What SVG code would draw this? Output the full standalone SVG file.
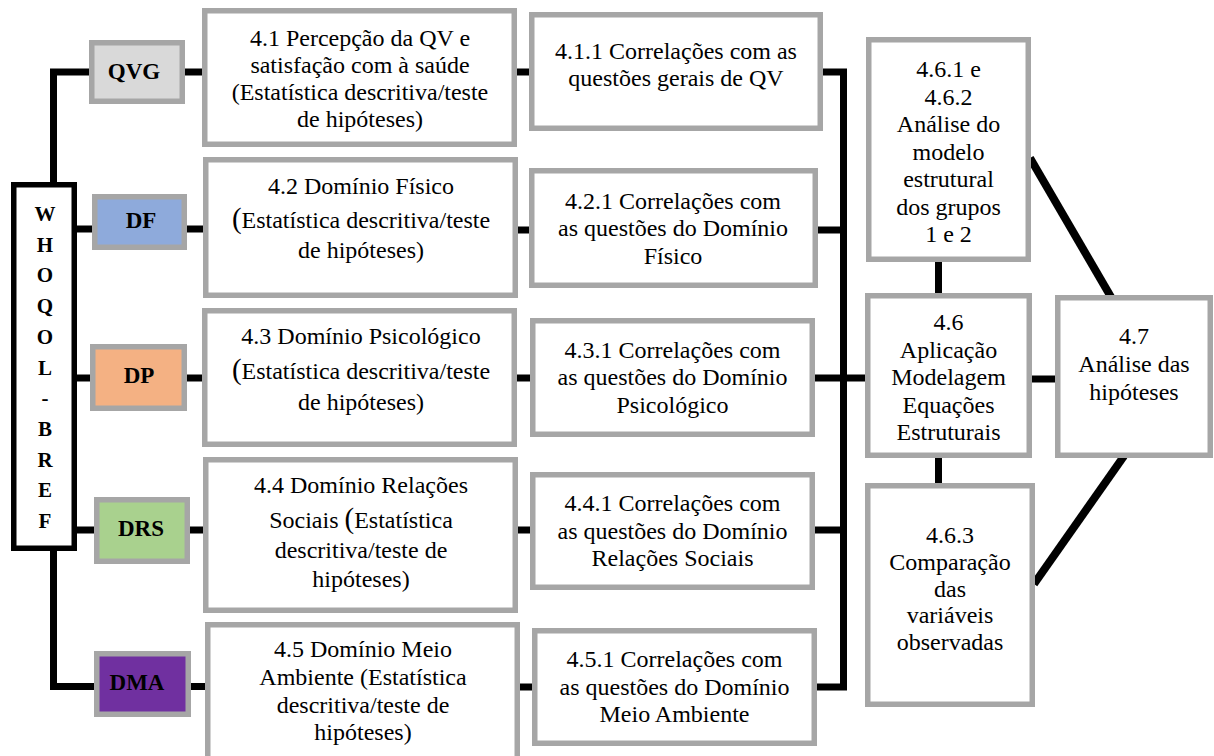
<svg xmlns="http://www.w3.org/2000/svg" width="1214" height="756" viewBox="0 0 1214 756">
<defs>
<style>
.bx{fill:#fff;stroke:#a6a6a6;stroke-width:5.5}
.lb{stroke:#a6a6a6;stroke-width:5.5}
.c{fill:none;stroke:#000;stroke-width:7;stroke-linejoin:miter}
.d{fill:none;stroke:#000;stroke-width:8}
</style>
</defs>
<rect width="1214" height="756" fill="#fff"/>
<g id="connectors">
<path class="c" d="M89 72H53.5V184"/>
<path class="c" d="M53.5 549V686.5H95"/>
<path class="c" d="M76 229H93"/>
<path class="c" d="M76 378H91"/>
<path class="c" d="M76 530H95"/>
<path class="c" d="M184 72H203"/>
<path class="c" d="M186 229H204"/>
<path class="c" d="M186 378H203"/>
<path class="c" d="M189 530H204"/>
<path class="c" d="M190 686.5H206"/>
<path class="c" d="M516 72H530"/>
<path class="c" d="M517 230H530"/>
<path class="c" d="M516 378H531"/>
<path class="c" d="M517 530H531"/>
<path class="c" d="M519 687H533"/>
<path class="c" d="M822 72H843.5V687H816"/>
<path class="c" d="M817 230H843.5"/>
<path class="c" d="M814 378H866"/>
<path class="c" d="M814 530H843.5"/>
<path class="c" d="M938.5 261V294"/>
<path class="c" d="M938.5 457V484"/>
<path class="c" d="M1031 379H1056"/>
<path class="d" d="M1030 158L1111 297"/>
<path class="d" d="M1034 584L1124 456"/>
</g>
<g id="whoqol" style="font-family:'Liberation Serif',serif;font-size:21px;font-weight:bold" text-anchor="middle">
<rect x="13.75" y="184.75" width="60.5" height="363.5" fill="#fff" stroke="#000" stroke-width="5.5"/>
<text style="font-family:'Liberation Serif',serif" x="45" y="221">W</text>
<text style="font-family:'Liberation Serif',serif" x="45" y="251.7">H</text>
<text style="font-family:'Liberation Serif',serif" x="45" y="282.4">O</text>
<text style="font-family:'Liberation Serif',serif" x="45" y="313">Q</text>
<text style="font-family:'Liberation Serif',serif" x="45" y="343.8">O</text>
<text style="font-family:'Liberation Serif',serif" x="45" y="374.5">L</text>
<text style="font-family:'Liberation Serif',serif" x="45" y="405">-</text>
<text style="font-family:'Liberation Serif',serif" x="45" y="436">B</text>
<text style="font-family:'Liberation Serif',serif" x="45" y="466.6">R</text>
<text style="font-family:'Liberation Serif',serif" x="45" y="497">E</text>
<text style="font-family:'Liberation Serif',serif" x="45" y="528">F</text>
</g>
<g style="font-family:'Liberation Serif',serif;font-size:23px;font-weight:bold" text-anchor="middle">
<g id="qvg"><rect class="lb" x="91.75" y="42.75" width="90.5" height="58.5" fill="#d9d9d9"/><text style="font-family:'Liberation Serif',serif" x="134" y="78.5">QVG</text></g>
<g id="df"><rect class="lb" x="94.75" y="196.75" width="89.5" height="50.5" fill="#8eaadb"/><text style="font-family:'Liberation Serif',serif" x="141" y="228">DF</text></g>
<g id="dp"><rect class="lb" x="92.75" y="346.75" width="91.5" height="61.5" fill="#f4b183"/><text style="font-family:'Liberation Serif',serif" x="139" y="383">DP</text></g>
<g id="drs"><rect class="lb" x="96.75" y="499.75" width="90.5" height="61.5" fill="#a9d18e"/><text style="font-family:'Liberation Serif',serif" x="141" y="536">DRS</text></g>
<g id="dma"><rect class="lb" x="96.75" y="653.75" width="91.5" height="60.5" fill="#7030a0"/><text style="font-family:'Liberation Serif',serif" x="137" y="690">DMA</text></g>
</g>
<g style="font-family:'Liberation Serif',serif;font-size:24px" text-anchor="middle">
<g id="n41"><rect class="bx" x="204.75" y="10.75" width="309.5" height="133.5"/>
<text style="font-family:'Liberation Serif',serif" x="360" y="46">4.1 Percepção da QV e</text>
<text style="font-family:'Liberation Serif',serif" x="360" y="73">satisfação com à saúde</text>
<text style="font-family:'Liberation Serif',serif" x="360" y="100">(Estatística descritiva/teste</text>
<text style="font-family:'Liberation Serif',serif" x="360" y="127">de hipóteses)</text></g>
<g id="n42"><rect class="bx" x="205.75" y="159.75" width="309.5" height="135.5"/>
<text style="font-family:'Liberation Serif',serif" x="361" y="194">4.2 Domínio Físico</text>
<text style="font-family:'Liberation Serif',serif" x="361" y="228"><tspan font-size="29">(</tspan>Estatística descritiva/teste</text>
<text style="font-family:'Liberation Serif',serif" x="361" y="258">de hipóteses)</text></g>
<g id="n43"><rect class="bx" x="204.75" y="310.75" width="309.5" height="133.5"/>
<text style="font-family:'Liberation Serif',serif" x="361" y="344">4.3 Domínio Psicológico</text>
<text style="font-family:'Liberation Serif',serif" x="361" y="379"><tspan font-size="29">(</tspan>Estatística descritiva/teste</text>
<text style="font-family:'Liberation Serif',serif" x="361" y="410">de hipóteses)</text></g>
<g id="n44"><rect class="bx" x="205.75" y="459.75" width="309.5" height="150.5"/>
<text style="font-family:'Liberation Serif',serif" x="361" y="493">4.4 Domínio Relações</text>
<text style="font-family:'Liberation Serif',serif" x="361" y="528">Sociais <tspan font-size="29">(</tspan>Estatística</text>
<text style="font-family:'Liberation Serif',serif" x="361" y="558">descritiva/teste de</text>
<text style="font-family:'Liberation Serif',serif" x="361" y="587">hipóteses)</text></g>
<g id="n45"><rect class="bx" x="207.75" y="624.75" width="309.5" height="145"/>
<text style="font-family:'Liberation Serif',serif" x="363" y="657">4.5 Domínio Meio</text>
<text style="font-family:'Liberation Serif',serif" x="363" y="685">Ambiente (Estatística</text>
<text style="font-family:'Liberation Serif',serif" x="363" y="713">descritiva/teste de</text>
<text style="font-family:'Liberation Serif',serif" x="363" y="740">hipóteses)</text></g>
<g id="n411"><rect class="bx" x="531.75" y="14.75" width="288.5" height="113.5"/>
<text style="font-family:'Liberation Serif',serif" x="676" y="59">4.1.1 Correlações com as</text>
<text style="font-family:'Liberation Serif',serif" x="676" y="86">questões gerais de QV</text></g>
<g id="n421"><rect class="bx" x="531.75" y="170.75" width="283.5" height="114.5"/>
<text style="font-family:'Liberation Serif',serif" x="673" y="208.5">4.2.1 Correlações com</text>
<text style="font-family:'Liberation Serif',serif" x="673" y="236">as questões do Domínio</text>
<text style="font-family:'Liberation Serif',serif" x="673" y="263.5">Físico</text></g>
<g id="n431"><rect class="bx" x="532.75" y="320.75" width="279.5" height="113.5"/>
<text style="font-family:'Liberation Serif',serif" x="672.5" y="357.5">4.3.1 Correlações com</text>
<text style="font-family:'Liberation Serif',serif" x="672.5" y="385">as questões do Domínio</text>
<text style="font-family:'Liberation Serif',serif" x="672.5" y="412.5">Psicológico</text></g>
<g id="n441"><rect class="bx" x="532.75" y="474.75" width="279.5" height="112.5"/>
<text style="font-family:'Liberation Serif',serif" x="672.5" y="511">4.4.1 Correlações com</text>
<text style="font-family:'Liberation Serif',serif" x="672.5" y="538.5">as questões do Domínio</text>
<text style="font-family:'Liberation Serif',serif" x="672.5" y="566">Relações Sociais</text></g>
<g id="n451"><rect class="bx" x="534.75" y="630.75" width="279.5" height="112.5"/>
<text style="font-family:'Liberation Serif',serif" x="674.5" y="667">4.5.1 Correlações com</text>
<text style="font-family:'Liberation Serif',serif" x="674.5" y="694.5">as questões do Domínio</text>
<text style="font-family:'Liberation Serif',serif" x="674.5" y="722">Meio Ambiente</text></g>
<g id="n461"><rect class="bx" x="868.75" y="39.75" width="159.5" height="219.5"/>
<text style="font-family:'Liberation Serif',serif" x="948.5" y="77">4.6.1 e</text>
<text style="font-family:'Liberation Serif',serif" x="948.5" y="104.5">4.6.2</text>
<text style="font-family:'Liberation Serif',serif" x="948.5" y="132">Análise do</text>
<text style="font-family:'Liberation Serif',serif" x="948.5" y="159.5">modelo</text>
<text style="font-family:'Liberation Serif',serif" x="948.5" y="187">estrutural</text>
<text style="font-family:'Liberation Serif',serif" x="948.5" y="214.5">dos grupos</text>
<text style="font-family:'Liberation Serif',serif" x="948.5" y="242">1 e 2</text></g>
<g id="n46"><rect class="bx" x="867.75" y="295.75" width="161.5" height="159.5"/>
<text style="font-family:'Liberation Serif',serif" x="948.5" y="330">4.6</text>
<text style="font-family:'Liberation Serif',serif" x="948.5" y="357.5">Aplicação</text>
<text style="font-family:'Liberation Serif',serif" x="948.5" y="385">Modelagem</text>
<text style="font-family:'Liberation Serif',serif" x="948.5" y="412.5">Equações</text>
<text style="font-family:'Liberation Serif',serif" x="948.5" y="440">Estruturais</text></g>
<g id="n463"><rect class="bx" x="867.75" y="485.75" width="164.5" height="218.5"/>
<text style="font-family:'Liberation Serif',serif" x="950" y="543">4.6.3</text>
<text style="font-family:'Liberation Serif',serif" x="950" y="569.75">Comparação</text>
<text style="font-family:'Liberation Serif',serif" x="950" y="596.5">das</text>
<text style="font-family:'Liberation Serif',serif" x="950" y="623.25">variáveis</text>
<text style="font-family:'Liberation Serif',serif" x="950" y="650">observadas</text></g>
<g id="n47"><rect class="bx" x="1057.75" y="297.75" width="152.5" height="157.5"/>
<text style="font-family:'Liberation Serif',serif" x="1134" y="344">4.7</text>
<text style="font-family:'Liberation Serif',serif" x="1134" y="372">Análise das</text>
<text style="font-family:'Liberation Serif',serif" x="1134" y="400">hipóteses</text></g>
</g>
</svg>
